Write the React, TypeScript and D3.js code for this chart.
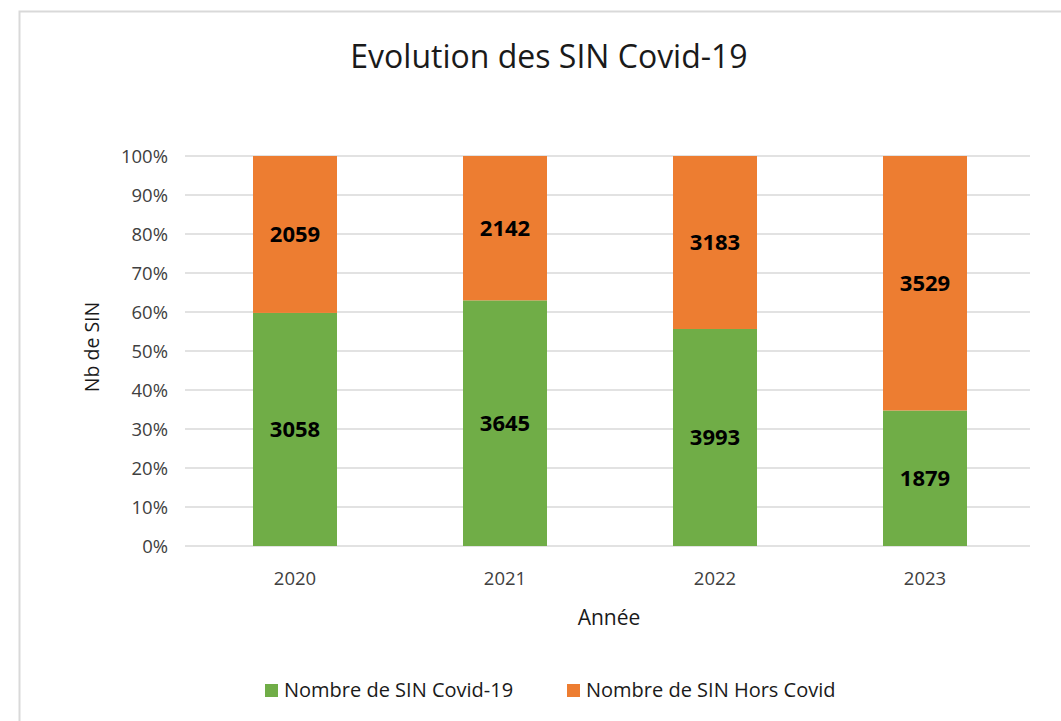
import { useEffect, useRef } from 'react';
import * as d3 from 'd3';

const years = ['2020', '2021', '2022', '2023'];
const covid = [3058, 3645, 3993, 1879];
const horsCovid = [2059, 2142, 3183, 3529];
const seriesNames = ['Nombre de SIN Covid-19', 'Nombre de SIN Hors Covid'];
const colors = ['#70ad47', '#ed7d31'];
const yTicks = [0, 0.1, 0.2, 0.3, 0.4, 0.5, 0.6, 0.7, 0.8, 0.9, 1];

const FONT = 'Open Sans, sans-serif';

function App() {
  const svgRef = useRef<SVGSVGElement>(null);

  useEffect(() => {
    const w = 1061;
    const h = 721;
    const svg = d3.select(svgRef.current);
    svg.selectAll('*').remove();

    svg.append('rect')
      .attr('width', w).attr('height', h).attr('fill', '#fff');
    // chart frame
    svg.append('rect')
      .attr('x', 19.5).attr('y', 11.5)
      .attr('width', 1100).attr('height', 800)
      .attr('fill', 'none').attr('stroke', '#d9d9d9').attr('stroke-width', 2);

    const x = d3.scaleBand().domain(years).range([190, 1030]).paddingInner(0.6).paddingOuter(0.3);
    const y = d3.scaleLinear().domain([0, 1]).range([546, 156]);

    // gridlines
    svg.append('g')
      .selectAll('line').data(yTicks).enter().append('line')
      .attr('x1', 185).attr('x2', 1030)
      .attr('y1', d => y(d)).attr('y2', d => y(d))
      .attr('stroke', '#d9d9d9').attr('stroke-width', 1.5);

    svg.append('g')
      .selectAll('text').data(yTicks).enter().append('text')
      .attr('x', 168).attr('y', d => y(d)).attr('dy', '0.36em')
      .attr('text-anchor', 'end')
      .attr('font-family', FONT).attr('font-size', 18.5).attr('fill', '#404040')
      .text(d => d3.format('.0%')(d));

    const rows = years.map((yr, i) => ({ year: yr, c: covid[i], h: horsCovid[i], t: covid[i] + horsCovid[i] }));

    const g = svg.append('g');
    rows.forEach(r => {
      const share = r.c / r.t;
      const x0 = x(r.year)!;
      g.append('rect')
        .attr('x', x0).attr('width', x.bandwidth())
        .attr('y', y(share)).attr('height', y(0) - y(share))
        .attr('fill', colors[0]);
      g.append('rect')
        .attr('x', x0).attr('width', x.bandwidth())
        .attr('y', y(1)).attr('height', y(share) - y(1))
        .attr('fill', colors[1]);
      g.append('text')
        .attr('x', x0 + x.bandwidth() / 2).attr('y', y(share / 2)).attr('dy', '0.36em')
        .attr('text-anchor', 'middle').attr('font-family', FONT)
        .attr('font-size', 22).attr('font-weight', 'bold').attr('fill', '#000')
        .text(r.c);
      g.append('text')
        .attr('x', x0 + x.bandwidth() / 2).attr('y', y((1 + share) / 2)).attr('dy', '0.36em')
        .attr('text-anchor', 'middle').attr('font-family', FONT)
        .attr('font-size', 22).attr('font-weight', 'bold').attr('fill', '#000')
        .text(r.h);
    });

    // x labels
    svg.append('g')
      .selectAll('text').data(years).enter().append('text')
      .attr('x', d => x(d)! + x.bandwidth() / 2).attr('y', 578).attr('dy', '0.36em')
      .attr('text-anchor', 'middle')
      .attr('font-family', FONT).attr('font-size', 18.5).attr('fill', '#404040')
      .text(d => d);

    svg.append('text')
      .attr('x', 549).attr('y', 56).attr('dy', '0.36em')
      .attr('text-anchor', 'middle')
      .attr('font-family', FONT).attr('font-size', 32).attr('fill', '#1a1a1a')
      .text('Evolution des SIN Covid-19');

    svg.append('text')
      .attr('x', 609).attr('y', 617).attr('dy', '0.36em')
      .attr('text-anchor', 'middle')
      .attr('font-family', FONT).attr('font-size', 21).attr('fill', '#1a1a1a')
      .text('Année');

    svg.append('text')
      .attr('transform', 'translate(92,347) rotate(-90)').attr('dy', '0.36em')
      .attr('text-anchor', 'middle')
      .attr('font-family', FONT).attr('font-size', 19.5).attr('fill', '#1a1a1a')
      .text('Nb de SIN');

    // legend
    const legendX = [265, 567];
    seriesNames.forEach((name, i) => {
      svg.append('rect')
        .attr('x', legendX[i]).attr('y', 684).attr('width', 13).attr('height', 13)
        .attr('fill', colors[i]);
      svg.append('text')
        .attr('x', legendX[i] + 19).attr('y', 690).attr('dy', '0.36em')
        .attr('font-family', FONT).attr('font-size', 20).attr('fill', '#1a1a1a')
        .text(name);
    });
  }, []);

  return (
    <div style={{ position: 'absolute', left: 0, top: 0 }}>
      <svg ref={svgRef} width={1061} height={721} style={{ display: 'block' }}></svg>
    </div>
  );
}

export default App;
